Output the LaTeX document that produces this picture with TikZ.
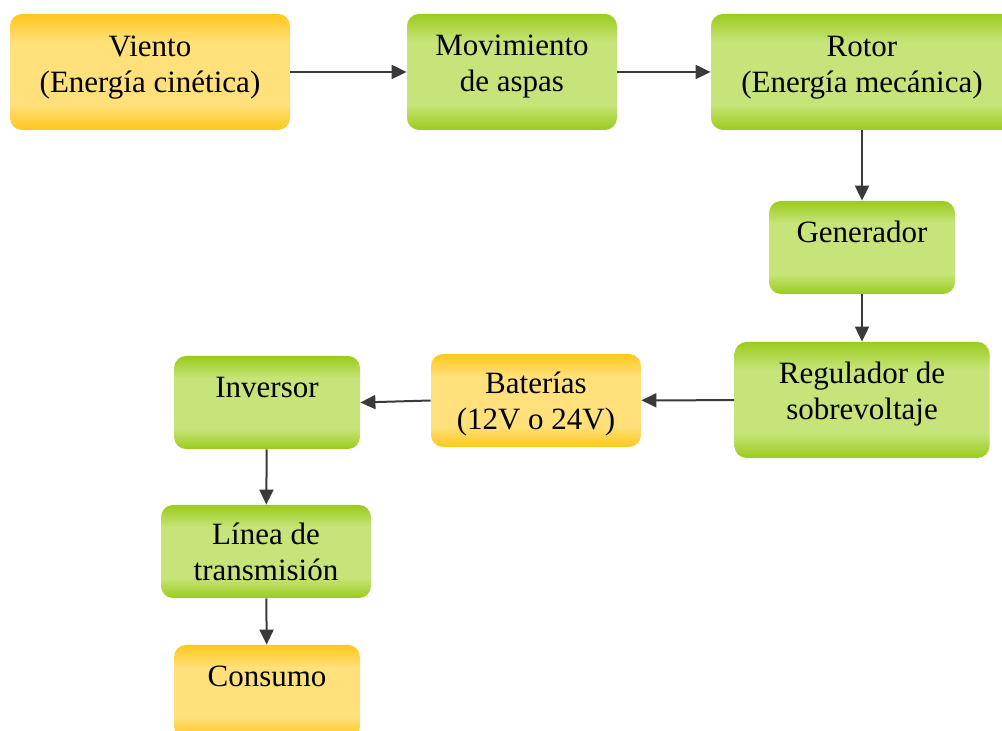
\documentclass[tikz,border=0pt]{standalone}
\usepackage{fontspec}
\setmainfont{Liberation Serif}
\usetikzlibrary{arrows.meta}
\definecolor{gdark}{RGB}{154,204,28}
\definecolor{glight}{RGB}{199,228,122}
\definecolor{ydark}{RGB}{255,200,28}
\definecolor{ylight}{RGB}{255,224,122}
\definecolor{flowgray}{RGB}{58,58,58}
\pgfdeclareverticalshading{greenfade}{100bp}{color(0bp)=(gdark); color(25bp)=(gdark); color(36bp)=(glight); color(63bp)=(glight); color(75bp)=(gdark); color(100bp)=(gdark)}
\pgfdeclareverticalshading{yellowfade}{100bp}{color(0bp)=(ydark); color(25bp)=(ydark); color(36bp)=(ylight); color(63bp)=(ylight); color(75bp)=(ydark); color(100bp)=(ydark)}
\tikzset{
  box/.style={rounded corners=6pt, align=center, inner sep=0pt,
    font=\fontsize{15.5}{18}\selectfont},
  gbox/.style={box, shade, shading=greenfade},
  ybox/.style={box, shade, shading=yellowfade},
  lift/.style={text depth=#1},
  flow/.style={draw=flowgray, line width=1pt, -{Triangle[length=7.5pt,width=7pt]}}
}

\begin{document}
\begin{tikzpicture}[x=0.5pt,y=-0.5pt]
\useasboundingbox (0,0) rectangle (1002,731);

% top row
\node [ybox, lift=8pt, minimum width=140pt, minimum height=58pt] (viento) at (150,72) {Viento\\(Energía cinética)};
\node [gbox, lift=9pt, minimum width=105pt, minimum height=58pt] (aspas) at (512,72) {Movimiento\\de aspas};
\node [gbox, lift=8pt, minimum width=151pt, minimum height=58pt] (rotor) at (862,72) {Rotor\\(Energía mecánica)};

% right column
\node [gbox, lift=16pt, minimum width=93pt, minimum height=46.5pt] (generador) at (862,247.5) {Generador};
\node [gbox, lift=9.5pt, minimum width=127.5pt, minimum height=58pt] (regulador) at (862,400) {Regulador de\\sobrevoltaje};

% middle row
\node [ybox, lift=0pt, minimum width=105pt, minimum height=46.5pt] (baterias) at (536,400.5) {Baterías\\(12V o 24V)};
\node [gbox, lift=15.5pt, minimum width=93pt, minimum height=46.5pt] (inversor) at (267,402.5) {Inversor};

% left column
\node [gbox, lift=0pt, minimum width=105pt, minimum height=46.5pt] (linea) at (266,551.5) {Línea de\\transmisión};
\node [ybox, lift=15pt, minimum width=93pt, minimum height=46.5pt] (consumo) at (267,691.5) {Consumo};

\draw [flow] (viento) -- (aspas);
\draw [flow] (aspas) -- (rotor);
\draw [flow] (rotor) -- (generador);
\draw [flow] (generador) -- (regulador);
\draw [flow] (regulador) -- (baterias);
\draw [flow] (baterias.west) -- (inversor.east);
\draw [flow] (inversor) -- (linea);
\draw [flow] (linea) -- (consumo);
\end{tikzpicture}
\end{document}
